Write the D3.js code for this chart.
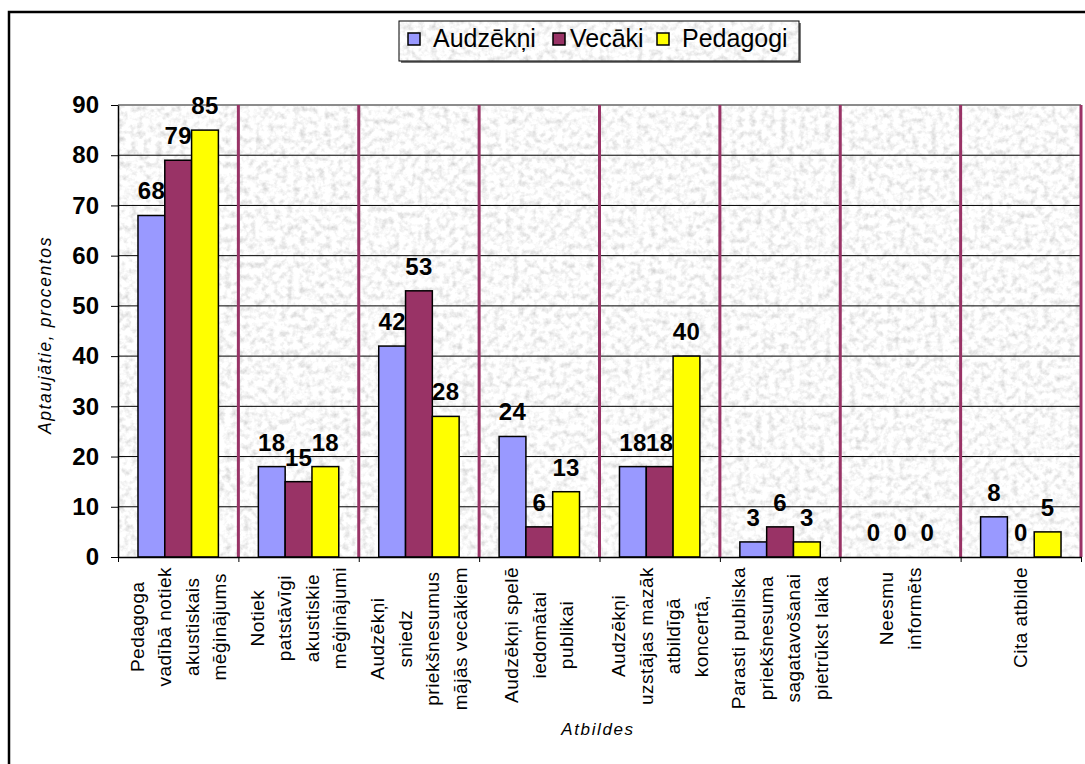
<!DOCTYPE html>
<html>
<head>
<meta charset="utf-8">
<script src="https://cdn.jsdelivr.net/npm/d3@7"></script>
<style>
  body { margin: 0; background: #fff; }
  svg { display: block; font-family: "Liberation Sans", Arial, sans-serif; }
</style>
</head>
<body>
<div id="chart"></div>
<script>
// data
const seriesNames = ["Audzēkņi", "Vecāki", "Pedagogi"];
const categoryLines = [
  ["Pedagoga", "vadībā notiek", "akustiskais", "mēģinājums"],
  ["Notiek", "patstāvīgi", "akustiskie", "mēģinājumi"],
  ["Audzēkņi", "sniedz", "priekšnesumus", "mājās vecākiem"],
  ["Audzēkņi spelē", "iedomātai", "publikai"],
  ["Audzēkņi", "uzstājas mazāk", "atbildīgā", "koncertā,"],
  ["Parasti publiska", "priekšnesuma", "sagatavošanai", "pietrūkst laika"],
  ["Neesmu", "informēts"],
  ["Cita atbilde"]
];
const audzekni = [68, 18, 42, 24, 18, 3, 0, 8];
const vecaki   = [79, 15, 53, 6, 18, 6, 0, 0];
const pedagogi = [85, 18, 28, 13, 40, 3, 0, 5];
const yTicks = [0, 10, 20, 30, 40, 50, 60, 70, 80, 90];

const colors = ["#9999FF", "#993366", "#FFFF00"];

// 1) svg
const W = 1085, H = 764;
const svg = d3.select("#chart").append("svg")
  .attr("width", W)
  .attr("height", H);

const plot = { left: 118, right: 1081, top: 105, bottom: 557 };

// granite texture
const defs = svg.append("defs");
const f = defs.append("filter").attr("id", "granite")
  .attr("x", 0).attr("y", 0).attr("width", 1).attr("height", 1);
f.append("feTurbulence")
  .attr("type", "fractalNoise")
  .attr("baseFrequency", 0.16)
  .attr("numOctaves", 3)
  .attr("seed", 11);
f.append("feColorMatrix")
  .attr("type", "matrix")
  .attr("values", "0.7 0 0 0 0.6  0.7 0 0 0 0.6  0.7 0 0 0 0.6  0 0 0 0 1");

// outer frame
svg.append("rect")
  .attr("x", 9).attr("y", 12)
  .attr("width", 1200).attr("height", 900)
  .attr("fill", "#fff")
  .attr("stroke", "#000")
  .attr("stroke-width", 2.5);

// 2) scales
const x0 = d3.scaleBand()
  .domain(d3.range(categoryLines.length))
  .range([plot.left, plot.right])
  .paddingInner(0).paddingOuter(0);

const bw = x0.bandwidth();
const x1 = d3.scaleBand()
  .domain(d3.range(seriesNames.length))
  .range([bw * 0.166, bw * 0.834]);

const xEdge = d3.scaleLinear()
  .domain([0, categoryLines.length])
  .range([plot.left, plot.right]);

const y = d3.scaleLinear().domain([0, 90]).range([plot.bottom, plot.top]);

// 3) plot background
svg.append("rect")
  .attr("x", plot.left).attr("y", plot.top)
  .attr("width", plot.right - plot.left)
  .attr("height", plot.bottom - plot.top)
  .attr("filter", "url(#granite)");

// gridlines
svg.append("g")
  .selectAll("line")
  .data(yTicks.filter(v => v > 0 && v < 90))
  .join("line")
    .attr("x1", plot.left).attr("x2", plot.right)
    .attr("y1", d => y(d)).attr("y2", d => y(d))
    .attr("stroke", "#000")
    .attr("stroke-width", 1);

// top border
svg.append("line")
  .attr("x1", plot.left).attr("x2", plot.right)
  .attr("y1", plot.top).attr("y2", plot.top)
  .attr("stroke", "#8c8c8c").attr("stroke-width", 2);

// category dividers
svg.append("g")
  .selectAll("line")
  .data(d3.range(1, categoryLines.length + 1))
  .join("line")
    .attr("x1", d => xEdge(d)).attr("x2", d => xEdge(d))
    .attr("y1", plot.top).attr("y2", plot.bottom)
    .attr("stroke", "#993366")
    .attr("stroke-width", 3);

// 4) bars
const rows = categoryLines.map((c, i) => ({
  i, values: [audzekni[i], vecaki[i], pedagogi[i]]
}));

const groups = svg.append("g")
  .selectAll("g")
  .data(rows)
  .join("g")
    .attr("transform", d => `translate(${x0(d.i)},0)`);

groups.selectAll("rect")
  .data(d => d.values.map((v, s) => ({ v, s })))
  .join("rect")
    .filter(d => d.v > 0)
    .attr("x", d => x1(d.s))
    .attr("y", d => y(d.v))
    .attr("width", x1.bandwidth())
    .attr("height", d => y(0) - y(d.v))
    .attr("fill", d => colors[d.s])
    .attr("stroke", "#000")
    .attr("stroke-width", 1.5);

groups.selectAll("text")
  .data(d => d.values.map((v, s) => ({ v, s })))
  .join("text")
    .attr("x", d => x1(d.s) + x1.bandwidth() / 2)
    .attr("y", d => y(d.v) - 16)
    .attr("text-anchor", "middle")
    .attr("font-size", 24)
    .attr("font-weight", "bold")
    .attr("letter-spacing", 0.3)
    .text(d => d.v);

// 5) axes
const yAxis = svg.append("g")
  .attr("transform", `translate(${plot.left},0)`)
  .call(d3.axisLeft(y).tickValues(yTicks).tickSize(7).tickSizeOuter(0).tickPadding(12));
yAxis.select(".domain").attr("stroke", "#000").attr("stroke-width", 1.5);
yAxis.selectAll(".tick line").attr("stroke", "#000");
yAxis.selectAll("text")
  .attr("font-family", "Liberation Sans, Arial, sans-serif")
  .attr("font-size", 24)
  .attr("font-weight", "bold")
  .attr("fill", "#000");

const xAxis = svg.append("g")
  .attr("transform", `translate(0,${plot.bottom})`)
  .call(d3.axisBottom(xEdge).ticks(categoryLines.length).tickSize(5).tickSizeOuter(0).tickFormat(""));
xAxis.select(".domain").attr("stroke", "#000").attr("stroke-width", 1.5);
xAxis.selectAll(".tick line").attr("stroke", "#000");

// category labels (rotated, one text per line)
const lineGap = 27.5;
categoryLines.forEach((lines, i) => {
  const cx = x0(i) + bw / 2;
  const g = svg.append("g");
  const texts = g.selectAll("text")
    .data(lines)
    .join("text")
      .attr("font-size", 19)
      .attr("letter-spacing", 0.5)
      .attr("text-anchor", "middle")
      .attr("dy", "0.35em")
      .text(d => d);
  let maxLen = 0;
  texts.each(function() { maxLen = Math.max(maxLen, this.getComputedTextLength()); });
  const cy = plot.bottom + 10 + maxLen / 2;
  texts.attr("transform", (d, j) => {
    const lx = cx + (j - (lines.length - 1) / 2) * lineGap;
    return `translate(${lx},${cy}) rotate(-90)`;
  });
});

// axis titles
svg.append("text")
  .attr("transform", `translate(51,335) rotate(-90)`)
  .attr("text-anchor", "middle")
  .attr("font-size", 17.5)
  .attr("font-style", "italic")
  .attr("letter-spacing", 1.6)
  .text("Aptaujātie, procentos");

svg.append("text")
  .attr("x", 598).attr("y", 735)
  .attr("text-anchor", "middle")
  .attr("font-size", 17)
  .attr("font-style", "italic")
  .attr("letter-spacing", 1.6)
  .text("Atbildes");

// 6) legend
const lg = svg.append("g");
lg.append("rect")
  .attr("x", 401).attr("y", 23).attr("width", 400).attr("height", 40)
  .attr("fill", "#7a7a7a");
lg.append("rect")
  .attr("x", 399).attr("y", 21).attr("width", 400).attr("height", 40)
  .attr("filter", "url(#granite)");
lg.append("rect")
  .attr("x", 399).attr("y", 21).attr("width", 400).attr("height", 40)
  .attr("fill", "none")
  .attr("stroke", "#000").attr("stroke-width", 1);

const legendBox = [408, 553, 657];
const legendText = [433, 570, 682];
const item = lg.selectAll("g.item")
  .data(seriesNames)
  .join("g")
    .attr("class", "item");
item.append("rect")
  .attr("x", (d, i) => legendBox[i]).attr("y", 33)
  .attr("width", 12).attr("height", 12)
  .attr("fill", (d, i) => colors[i])
  .attr("stroke", "#000").attr("stroke-width", 1.5);
item.append("text")
  .attr("x", (d, i) => legendText[i]).attr("y", 47)
  .attr("font-size", 25)
  .text(d => d);
</script>
</body>
</html>
